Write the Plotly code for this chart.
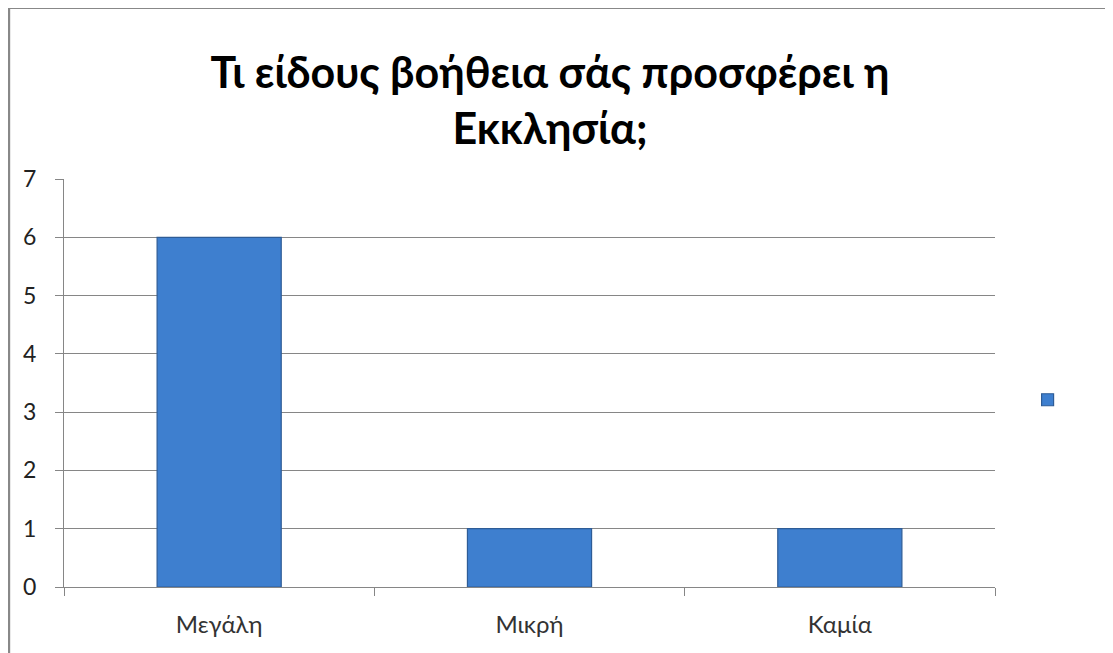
import plotly.graph_objects as go

categories = ["Μεγάλη", "Μικρή", "Καμία"]
values = [6, 1, 1]
y_ticks = [0, 1, 2, 3, 4, 5, 6, 7]
title_text = "Τι είδους βοήθεια σάς προσφέρει η<br>Εκκλησία;"

OFF = 8  # page body margin
W, H = 1113 - OFF, 653 - OFF
L, T = 64 - OFF, 179 - OFF
R = W - (995 - OFF)
B = H - (587 - OFF)

fig = go.Figure()
fig.add_trace(go.Bar(
    x=categories, y=values, name=" ", showlegend=True,
    width=0.4,
    marker=dict(color="#3E7FCF", line=dict(color="#2E5C96", width=1.2)),
))

fig.update_layout(
    width=W, height=H,
    margin=dict(l=L, r=R, t=T, b=B),
    paper_bgcolor="white", plot_bgcolor="white",
    font=dict(family="Lato, Open Sans, sans-serif", color="#222"),
    title=dict(text=title_text, x=0.522, xref="paper", xanchor="center",
               y=0.876, yref="container", yanchor="middle",
               font=dict(size=43, color="black", family="Lato, Open Sans, sans-serif", weight="bold")),
    xaxis=dict(showline=True, linecolor="#868686", linewidth=1,
               ticks="outside", ticklen=8, tickcolor="#868686", tickson="boundaries",
               tickfont=dict(size=24, color="#333"), showgrid=False, ticklabelstandoff=16),
    yaxis=dict(range=[0, 7], tickvals=y_ticks, showline=True, linecolor="#868686", linewidth=1,
               ticks="outside", ticklen=8, tickcolor="#868686",
               showgrid=True, gridcolor="#868686", gridwidth=1,
               tickfont=dict(size=23, color="#222"), zeroline=False, ticklabelstandoff=14),
    legend=dict(x=1.035, y=0.458, xanchor="left", yanchor="middle",
                font=dict(size=14), bgcolor="rgba(0,0,0,0)"),
)

pw = W - L - R
ph = H - T - B
x0 = (8 - OFF - L) / pw + 0.001
y1 = (H - B - (7 - OFF)) / ph - 0.002
fig.add_shape(type="rect", xref="paper", yref="paper",
              x0=x0, x1=1.5, y0=-0.5, y1=y1,
              line=dict(color="#888888", width=2.5), fillcolor="rgba(0,0,0,0)", layer="below")

fig.write_html("out.html")
